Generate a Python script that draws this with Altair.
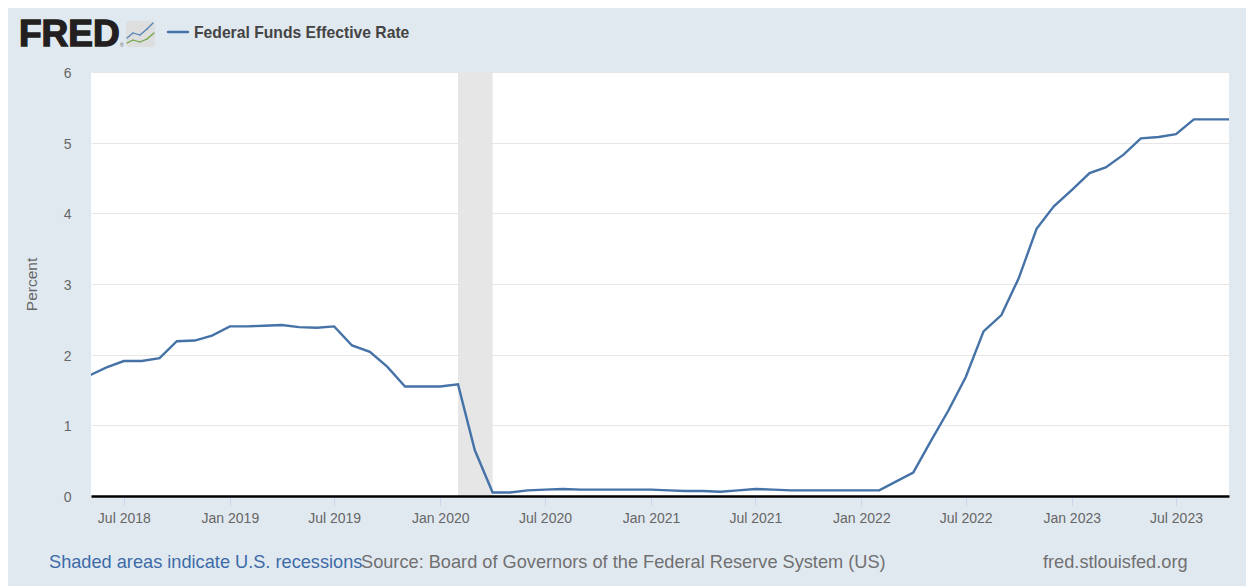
import altair as alt
import pandas as pd

rates = [1.70, 1.82, 1.91, 1.91, 1.95, 2.19, 2.20, 2.27,
         2.40, 2.40, 2.41, 2.42, 2.39, 2.38, 2.40, 2.13, 2.04, 1.83, 1.55, 1.55,
         1.55, 1.58, 0.65, 0.05, 0.05, 0.08, 0.09, 0.10, 0.09, 0.09, 0.09, 0.09,
         0.09, 0.08, 0.07, 0.07, 0.06, 0.08, 0.10, 0.09, 0.08, 0.08, 0.08, 0.08,
         0.08, 0.08, 0.20, 0.33, 0.77, 1.21, 1.68, 2.33, 2.56, 3.08, 3.78, 4.10,
         4.33, 4.57, 4.65, 4.83, 5.06, 5.08, 5.12, 5.33, 5.33, 5.33]
start_month = "2018-05-01"
tick_months = ["2018-07-01", "2019-01-01", "2019-07-01", "2020-01-01", "2020-07-01", "2021-01-01",
               "2021-07-01", "2022-01-01", "2022-07-01", "2023-01-01", "2023-07-01"]
x_domain = ["2018-05-05", "2023-10-01"]
recession = ["2020-02-01", "2020-04-01"]
legend_label = "Federal Funds Effective Rate"
y_ticks = [0, 1, 2, 3, 4, 5, 6]
logo_blue = [(127, 38), (133, 33), (140, 35), (147, 29), (153, 23)]
logo_green = [(127, 43), (133, 40), (140, 42), (147, 39), (154, 33)]

ms = lambda s: int(pd.Timestamp(s).timestamp() * 1000)

OX, OY = 91, 72  # plot origin in page pixels
TOTAL_W, TOTAL_H = 1238, 578
PLOT_W, PLOT_H = 1138, 424
months = pd.date_range(start_month, periods=len(rates), freq="MS")
df = pd.DataFrame({"date": [int(m.timestamp() * 1000) for m in months], "rate": rates})

x_scale = alt.Scale(type="utc", domain=[ms(x_domain[0]), ms(x_domain[1])])
y_scale = alt.Scale(domain=[0, 6])
FONT = "Liberation Sans"

rec = alt.Chart(pd.DataFrame({"a": [ms(recession[0])], "b": [ms(recession[1])]})).mark_rect(color="#e6e6e6").encode(
    x=alt.X("a:T", scale=x_scale, axis=alt.Axis(
        values=[ms(t) for t in tick_months], labelExpr="utcFormat(datum.value, '%b %Y')",
        title=None, grid=False, domainColor="#000000", domainWidth=2.5, tickColor="#ccd6eb",
        tickSize=10, tickWidth=1, labelColor="#666666", labelFontSize=14, labelFont=FONT,
        labelPadding=5, labelFlush=False, labelOverlap=False, zindex=1)),
    x2="b:T",
)
line = alt.Chart(df).mark_line(color="#4572a7", strokeWidth=2.4, clip=True).encode(
    x=alt.X("date:T", scale=x_scale),
    y=alt.Y("rate:Q", scale=y_scale, axis=alt.Axis(
        values=y_ticks, format="d", title="Percent", grid=True, gridColor="#e6e6e6", domain=False, ticks=False,
        labelColor="#666666", labelFontSize=14, labelFont=FONT, labelPadding=20, labelOffset=1.5,
        titleColor="#666666", titleFontSize=15.5, titleFontWeight="normal", titleFont=FONT,
        titlePadding=24)),
)

one = alt.Data(values=[{"k": 1}])

def label(text, x, y, size, color, weight="normal", stroke=None, sw=0.9):
    kw = {"stroke": stroke, "strokeWidth": sw} if stroke else {}
    return alt.Chart(one).mark_text(align="left", baseline="alphabetic", font=FONT, fontSize=size,
                                    color=color, fontWeight=weight, **kw).encode(
        x=alt.value(x - OX), y=alt.value(y - OY), text=alt.value(text))

def seg(x0, y0, x1, y1, color, width):
    return alt.Chart(one).mark_rule(color=color, strokeWidth=width, strokeCap="round").encode(
        x=alt.value(x0 - OX), y=alt.value(y0 - OY), x2=alt.value(x1 - OX), y2=alt.value(y1 - OY))

def polyline(points, color, width):
    return [seg(*a, *b, color, width) for a, b in zip(points, points[1:])]

icon = alt.Chart(one).mark_rect(color="#dedede", cornerRadius=3).encode(
    x=alt.value(126 - OX), x2=alt.value(155 - OX), y=alt.value(21 - OY), y2=alt.value(47 - OY))

layers = [
    rec, line,
    label("FRED", 19, 46, 37, "#231f20", "bold", stroke="#231f20", sw=1.4),
    label("®", 120, 47, 5, "#555555"),
    icon,
    *polyline(logo_blue, "#4f81b5", 1.2),
    *polyline(logo_green, "#6fa544", 1.2),
    seg(168, 32, 188, 32, "#4572a7", 2.4),
    label(legend_label, 194, 38, 15.7, "#444444", "bold"),
    label("Shaded areas indicate U.S. recessions", 49, 568, 18.2, "#3d6ba8"),
    label("Source: Board of Governors of the Federal Reserve System (US)", 361, 568, 18.2, "#707070"),
    label("fred.stlouisfed.org", 1043, 568, 18.2, "#707070"),
]

chart = alt.layer(*layers).resolve_scale(x="shared", y="shared").properties(
    width=PLOT_W, height=PLOT_H, background="#e1e9f0",
    padding={"left": OX - 8, "top": OY - 8, "right": TOTAL_W - (OX - 8) - PLOT_W,
             "bottom": TOTAL_H - (OY - 8) - PLOT_H},
    autosize=alt.AutoSizeParams(type="none"),
).configure_view(fill="#ffffff", stroke=None)

chart.save("out.html", embed_options={"renderer": "svg", "actions": False})
